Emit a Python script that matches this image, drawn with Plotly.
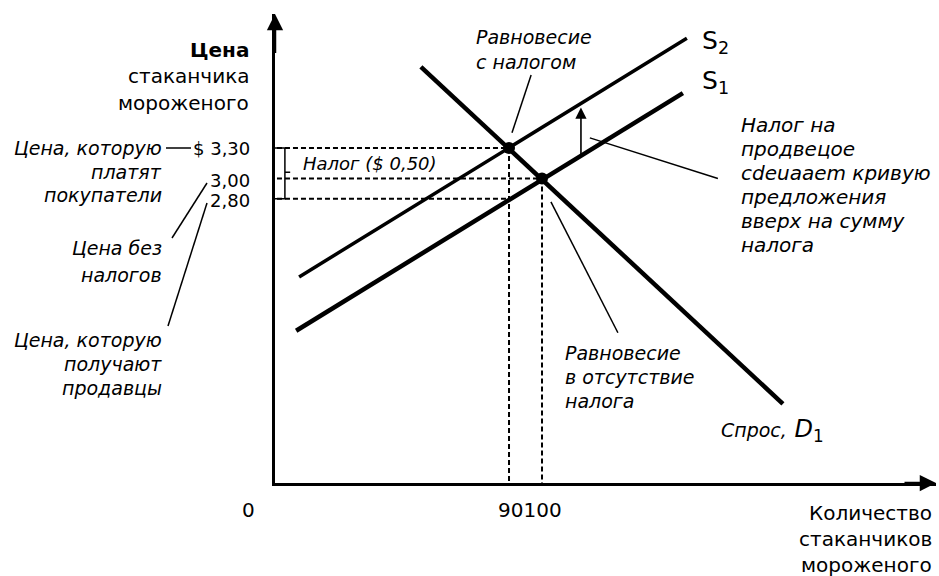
import numpy as np
import plotly.graph_objects as go

# ---------------- data ----------------
Q_TAX = 90          # quantity with tax
Q_NOTAX = 100       # quantity without tax
P_BUYERS = 3.30     # price buyers pay
P_NOTAX = 3.00      # price without tax
P_SELLERS = 2.80    # price sellers receive

demand_q = [63.3, 173.0]
demand_p = [4.10, 0.78]
supply1_q = [25.5, 142.7]
supply1_p = [1.50, 3.84]
supply2_q = [26.4, 143.9]
supply2_p = [2.03, 4.38]

price_tick_labels = ["$ 3,30", "3,00", "2,80"]
qty_tick_labels = ["0", "90100"]
y_title_lines = ["Цена", "стаканчика", "мороженого"]
x_title_lines = ["Количество", "стаканчиков", "мороженого"]
buyers_lines = ["Цена, которую", "платят", "покупатели"]
notax_lines = ["Цена без", "налогов"]
sellers_lines = ["Цена, которую", "получают", "продавцы"]
eq_tax_lines = ["Равновесие", "с налогом"]
eq_notax_lines = ["Равновесие", "в отсутствие", "налога"]
shift_lines = ["Налог на", "продвецое", "cdeuaaem кривую", "предложения",
               "вверх на сумму", "налога"]
tax_label = "Налог ($ 0,50)"

# ---------------- layout geometry ----------------
W, H = 939, 576
L, R, T, B = 275, 936, 14, 483
PW, PH = R - L, B - T
X_RANGE = [19.09, 219.39]
Y_RANGE = [0, 4.62]
FONT = "DejaVu Sans"


def px(x, y):
    return (x - L) / PW, (B - y) / PH


fig = go.Figure()

xmin = X_RANGE[0]
# dashed guide lines
dash_style = dict(color="black", width=2, dash="5px,3px")
for price, q in [(P_BUYERS, Q_TAX), (P_NOTAX, Q_NOTAX), (P_SELLERS, Q_TAX)]:
    fig.add_trace(go.Scatter(x=[xmin + 0.6, q], y=[price, price], mode="lines",
                             line=dash_style, hoverinfo="skip", showlegend=False))
for q, price in [(Q_TAX, P_BUYERS), (Q_NOTAX, P_NOTAX)]:
    fig.add_trace(go.Scatter(x=[q, q], y=[price, 0], mode="lines",
                             line=dash_style, hoverinfo="skip", showlegend=False))

# curves
fig.add_trace(go.Scatter(x=supply2_q, y=supply2_p, mode="lines",
                         line=dict(color="black", width=3.5), showlegend=False))
fig.add_trace(go.Scatter(x=supply1_q, y=supply1_p, mode="lines",
                         line=dict(color="black", width=4.5), showlegend=False))
fig.add_trace(go.Scatter(x=demand_q, y=demand_p, mode="lines",
                         line=dict(color="black", width=4.5), showlegend=False))
# equilibrium points
fig.add_trace(go.Scatter(x=[Q_TAX, Q_NOTAX], y=[P_BUYERS, P_NOTAX], mode="markers",
                         marker=dict(color="black", size=12), showlegend=False))

fig.update_layout(
    width=W, height=H,
    margin=dict(l=L, r=W - R, t=T, b=H - B),
    plot_bgcolor="white", paper_bgcolor="white",
    xaxis=dict(range=X_RANGE, showline=True, linecolor="black", linewidth=3,
               showgrid=False, zeroline=False, showticklabels=False, ticks=""),
    yaxis=dict(range=Y_RANGE, showline=True, linecolor="black", linewidth=3,
               showgrid=False, zeroline=False, showticklabels=False, ticks=""),
)

# axis arrows
fig.add_annotation(x=xmin, y=Y_RANGE[1], ax=xmin, ay=Y_RANGE[1] - 0.4,
                   xref="x", yref="y", axref="x", ayref="y", text="",
                   showarrow=True, arrowhead=2, arrowsize=1.3, arrowwidth=2.5,
                   arrowcolor="black")
fig.add_annotation(x=X_RANGE[1], y=0, ax=X_RANGE[1] - 10, ay=0,
                   xref="x", yref="y", axref="x", ayref="y", text="",
                   showarrow=True, arrowhead=2, arrowsize=1.3, arrowwidth=2.5,
                   arrowcolor="black")


def label(text, x, y, anchor="left", size=19, italic=False, bold=False):
    xp, yp = px(x, y)
    fig.add_annotation(x=xp, y=yp, xref="paper", yref="paper", text=text,
                       showarrow=False, xanchor=anchor, yanchor="middle",
                       font=dict(family=FONT, size=size, color="black",
                                 style="italic" if italic else "normal",
                                 weight="bold" if bold else "normal"))


def lines_label(lines, x, y0, step, anchor, size, italic=False, bold_first=False):
    for i, t in enumerate(lines):
        label(t, x, y0 + i * step, anchor, size, italic, bold_first and i == 0)


# axis titles
lines_label(y_title_lines, 251, 50, 26.5, "right", 20, bold_first=True)
lines_label(x_title_lines, 934, 513, 26, "right", 20)
# price tick labels
for t, yy in zip(price_tick_labels, [148, 180, 200]):
    label(t, 252, yy, "right", 18)
# quantity tick labels
label(qty_tick_labels[0], 248, 510, "center", 20)
label(qty_tick_labels[1], 530, 510, "center", 20)

# left italic notes
lines_label(buyers_lines, 164, 148, 23.5, "right", 19, italic=True)
lines_label(notax_lines, 164, 248, 27, "right", 19, italic=True)
lines_label(sellers_lines, 164, 340, 24, "right", 19, italic=True)

# inside notes
lines_label(eq_tax_lines, 474, 37, 25, "left", 19, italic=True)
lines_label(eq_notax_lines, 563, 353, 24, "left", 19, italic=True)
lines_label(shift_lines, 739, 125, 24, "left", 20, italic=True)
label(tax_label, 301, 163, "left", 18, italic=True)

# curve labels
label("S<sub>2</sub>", 700, 42, "left", 25)
label("S<sub>1</sub>", 700, 82, "left", 25)
label("<span style='font-size:19px'><i>Спрос,</i></span> <i>D</i><sub>1</sub>",
      719, 430, "left", 24)

# leader lines outside the plot (paper coords)
leaders_px = [((166, 148), (191, 148)),
              ((172, 238), (207, 183)),
              ((168, 326), (207, 203))]
for (x0, y0), (x1, y1) in leaders_px:
    a, b = px(x0, y0)
    c, d = px(x1, y1)
    fig.add_shape(type="line", xref="paper", yref="paper", x0=a, y0=b, x1=c, y1=d,
                  line=dict(color="black", width=1.5))

# leader lines inside the plot (data coords)
for (q0, p0), (q1, p1) in [((96.7, 4.02), (90.9, 3.45)),
                           ((123.0, 1.48), (102.7, 2.77)),
                           ((114.5, 3.40), (153.3, 3.00))]:
    fig.add_shape(type="line", xref="x", yref="y", x0=q0, y0=p0, x1=q1, y1=p1,
                  line=dict(color="black", width=1.5))

# tax bracket
qb = xmin + 3.0
mid = (P_BUYERS + P_SELLERS) / 2 + 0.01
fig.add_shape(type="path", xref="x", yref="y",
              path=f"M {xmin},{P_BUYERS} L {qb},{P_BUYERS} L {qb},{P_SELLERS} L {xmin},{P_SELLERS} "
                   f"M {qb},{mid} L {qb + 1.6},{mid}",
              line=dict(color="black", width=1.5))

# shift arrow between S1 and S2
Q_ARROW = 111.8
s1_at = float(np.interp(Q_ARROW, supply1_q, supply1_p))
s2_at = float(np.interp(Q_ARROW, supply2_q, supply2_p))
fig.add_annotation(x=Q_ARROW, y=s2_at - 0.04, ax=Q_ARROW, ay=s1_at,
                   xref="x", yref="y", axref="x", ayref="y", text="",
                   showarrow=True, arrowhead=2, arrowsize=1.4, arrowwidth=1.6,
                   arrowcolor="black")

fig.write_html("out.html", config={"displayModeBar": False},
               post_script="document.body.style.margin='0';document.body.style.overflow='hidden';")
